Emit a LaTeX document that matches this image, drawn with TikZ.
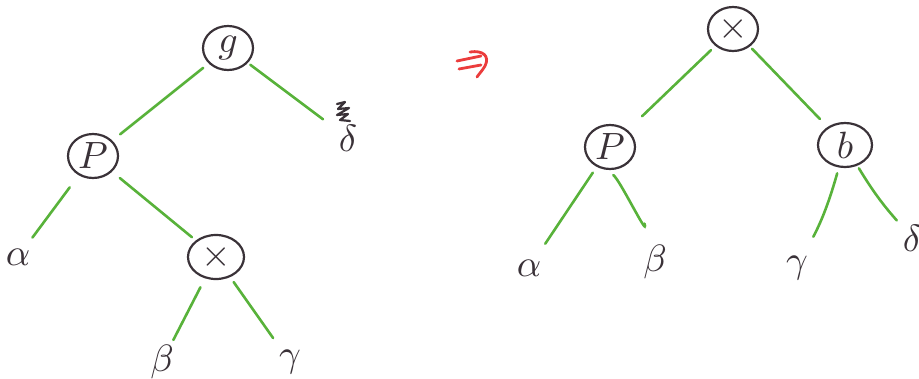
\documentclass[tikz,border=0pt]{standalone}
\usepackage{graphicx}
\usetikzlibrary{shapes.geometric}
\definecolor{edgegreen}{RGB}{88,178,58}
\definecolor{ink}{RGB}{58,50,56}
\definecolor{arrowred}{RGB}{235,60,60}
\newcommand{\inl}[1]{\scalebox{3.8}{$#1$}}
\newcommand{\lfl}[1]{\scalebox{3.8}{$#1$}}
\begin{document}
\begin{tikzpicture}[x=1pt,y=-1pt,
  inner/.style={ellipse,draw=ink,line width=2.2pt,minimum width=50pt,minimum height=44pt,inner sep=0pt,text=ink},
  leaf/.style={circle,minimum size=30pt,inner sep=0pt,text=ink},
  edge/.style={draw=edgegreen,line width=2.6pt,line cap=round},
  redstroke/.style={draw=arrowred,line width=2.8pt,line cap=round}]
\useasboundingbox (0,0) rectangle (919,378);
% left tree
\node[inner] (g) at (228,48) {\inl{g}};
\node[inner] (p) at (93,156) {\inl{P}};
\node[inner,minimum width=56pt] (x) at (216,257) {\inl{\times}};
\node[leaf] (d) at (348,138) {\lfl{\delta}};
\node[leaf] (a) at (18,257) {\lfl{\alpha}};
\node[leaf] (b) at (162,362) {\lfl{\beta}};
\node[leaf] (c) at (290,362) {\lfl{\gamma}};
\draw[edge,shorten <=7pt,shorten >=10pt] (g) -- (p);
\draw[edge,shorten <=3pt,shorten >=15pt] (g) -- (d);
\draw[edge,shorten <=15pt,shorten >=9pt] (p) -- (a);
\draw[edge,shorten <=10pt,shorten >=5pt] (p) -- (x);
\draw[edge,shorten <=10pt,shorten >=4pt] (x) -- (b);
\draw[edge,shorten <=6pt,shorten >=13pt] (x) -- (c);
% scribble above delta
\draw[ink,line width=2.2pt,line cap=round,line join=round]
  (337,104) -- (345,102) -- (338,109) -- (349,108) -- (337,115) -- (348,114) -- (340,120) -- (350,121);
% arrow
\draw[redstroke] (457,61) -- (481,56);
\draw[redstroke] (459,69) -- (481,65);
\draw[redstroke] (470,52) .. controls (483,50) and (490,56) .. (485,66) .. controls (482,71) and (479,74) .. (477,77);
% right tree
\node[inner] (X) at (733,29) {\inl{\times}};
\node[inner] (P) at (610,147) {\inl{P}};
\node[inner,minimum width=54pt] (B) at (845,145) {\inl{b}};
\node[leaf] (A2) at (529,268) {\lfl{\alpha}};
\node[leaf] (B2) at (655,262) {\lfl{\beta}};
\node[leaf] (C2) at (797,268) {\lfl{\gamma}};
\node[leaf] (D2) at (912,238) {\lfl{\delta}};
\draw[edge,shorten <=6pt,shorten >=20pt] (X) -- (P);
\draw[edge,shorten <=3pt,shorten >=11pt] (X) -- (B);
\draw[edge,shorten <=7pt,shorten >=14pt] (P) -- (A2);
\draw[edge,shorten <=9pt,shorten >=19pt] (P.-100) .. controls +(14,10) and +(-6,-22) .. (B2);
\draw[edge,shorten <=6pt,shorten >=19pt] (B) to[bend left=6] (C2);
\draw[edge,shorten <=3pt,shorten >=7pt] (B) to[bend right=5] (D2);
\end{tikzpicture}
\end{document}
